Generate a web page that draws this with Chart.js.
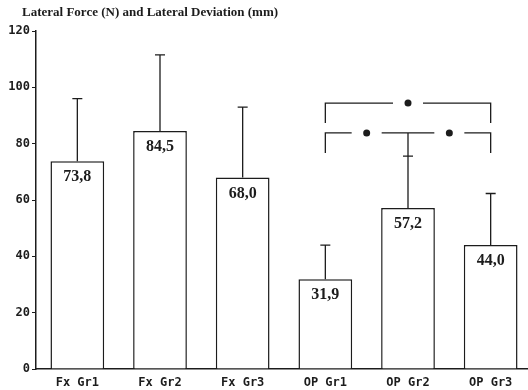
<!DOCTYPE html>
<html>
<head>
<meta charset="utf-8">
<script src="https://cdn.jsdelivr.net/npm/chart.js@4.4.0/dist/chart.umd.min.js"></script>
<style>
  html, body { margin: 0; padding: 0; background: #fff; overflow: hidden; }
  #wrap { width: 532px; height: 390px; }
</style>
</head>
<body>
<div id="wrap"><canvas id="forceChart" width="532" height="390"></canvas></div>
<script>
// data
const groups = ['Fx Gr1', 'Fx Gr2', 'Fx Gr3', 'OP Gr1', 'OP Gr2', 'OP Gr3'];
const means = [73.8, 84.5, 68.0, 31.9, 57.2, 44.0];
const errorTops = [96, 111.5, 93, 44, 75.6, 62.3];
const yTicks = [0, 20, 40, 60, 80, 100, 120];

// significance brackets (group index from/to, level of the bar, end of side legs)
const bracketFrom = [3, 3];
const bracketTo = [5, 5];
const bracketLevel = [94.4, 83.8];
const bracketLegEnd = [87.3, 76.7];
const bracketDots = [[4], [3.5, 4.5]];
const bracketStem = [null, 4];   // lower bracket drops onto the OP Gr2 error bar

const titleText = 'Lateral Force (N) and Lateral Deviation (mm)';

const ink = '#1c1c1c';
const axisFont = { family: 'DejaVu Sans Mono', weight: 'bold', size: 12 };

// error bars, value labels and the brackets
const overlay = {
    id: 'overlay',
    afterDatasetsDraw(chart) {
        const ctx = chart.ctx;
        const xs = chart.scales.x;
        const ys = chart.scales.y;
        const bars = chart.getDatasetMeta(0).data;

        ctx.save();
        ctx.strokeStyle = ink;
        ctx.lineWidth = 1.3;

        bars.forEach((bar, i) => {
            const top = ys.getPixelForValue(errorTops[i]);
            ctx.beginPath();
            ctx.moveTo(bar.x, bar.y);
            ctx.lineTo(bar.x, top);
            ctx.moveTo(bar.x - 5, top);
            ctx.lineTo(bar.x + 5, top);
            ctx.stroke();
        });

        ctx.fillStyle = ink;
        ctx.font = 'bold 16px "Liberation Serif"';
        ctx.textAlign = 'center';
        ctx.textBaseline = 'middle';
        bars.forEach((bar, i) => {
            ctx.fillText(means[i].toFixed(1).replace('.', ','), bar.x, bar.y + 16);
        });

        const gap = 15;
        bracketLevel.forEach((lvl, b) => {
            const x0 = xs.getPixelForValue(bracketFrom[b]);
            const x1 = xs.getPixelForValue(bracketTo[b]);
            const yl = ys.getPixelForValue(lvl);
            const yEnd = ys.getPixelForValue(bracketLegEnd[b]);
            const dotX = bracketDots[b].map(d => xs.getPixelForValue(d));

            ctx.beginPath();
            ctx.moveTo(x0, yEnd);
            ctx.lineTo(x0, yl);
            dotX.forEach(dx => {
                ctx.lineTo(dx - gap, yl);
                ctx.moveTo(dx + gap, yl);
            });
            ctx.lineTo(x1, yl);
            ctx.lineTo(x1, yEnd);
            if (bracketStem[b] !== null) {
                const sx = xs.getPixelForValue(bracketStem[b]);
                ctx.moveTo(sx, yl);
                ctx.lineTo(sx, ys.getPixelForValue(errorTops[bracketStem[b]]));
            }
            ctx.stroke();

            dotX.forEach(dx => {
                ctx.beginPath();
                ctx.arc(dx, yl, 3.5, 0, Math.PI * 2);
                ctx.fill();
            });
        });

        ctx.restore();
    },
    afterDraw(chart) {
        const ctx = chart.ctx;
        ctx.save();
        ctx.fillStyle = ink;
        ctx.font = 'bold 13px "Liberation Serif"';
        ctx.textAlign = 'left';
        ctx.textBaseline = 'middle';
        ctx.fillText(titleText, 22, 13);
        ctx.restore();
    }
};

new Chart(document.getElementById('forceChart').getContext('2d'), {
    type: 'bar',
    data: {
        labels: groups,
        datasets: [{
            data: means,
            backgroundColor: '#ffffff',
            borderColor: ink,
            borderWidth: 1.5,
            categoryPercentage: 1,
            barPercentage: 0.65
        }]
    },
    options: {
        responsive: false,
        animation: false,
        layout: { padding: { top: 31, left: 0, right: 0, bottom: 0 } },
        plugins: {
            legend: { display: false },
            tooltip: { enabled: false }
        },
        scales: {
            x: {
                afterFit: axis => { axis.height = 21; },
                grid: { display: false, drawTicks: false },
                border: { color: ink, width: 1.5 },
                ticks: { padding: 7, color: ink, font: axisFont }
            },
            y: {
                min: 0,
                max: 120,
                afterBuildTicks: axis => { axis.ticks = yTicks.map(v => ({ value: v })); },
                afterFit: axis => { axis.width = 36; },
                grid: { drawOnChartArea: false, tickLength: 4, color: ink, lineWidth: 1 },
                border: { color: ink, width: 1.5 },
                ticks: { padding: 2, color: ink, font: axisFont }
            }
        }
    },
    plugins: [overlay]
});
</script>
</body>
</html>
